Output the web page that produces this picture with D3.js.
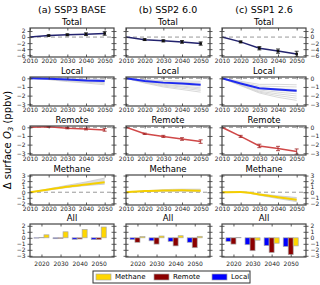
<!DOCTYPE html>
<html>
<head>
<meta charset="utf-8">
<script src="https://cdn.jsdelivr.net/npm/d3@7"></script>
<style>
  body { margin: 0; background: #fff; }
  svg { font-family: "DejaVu Sans", sans-serif; }
</style>
</head>
<body>
<svg width="320" height="285"></svg>
<script>
"use strict";
// ---- data ----
const years = [2010, 2020, 2030, 2040, 2050];
const barYears = [2020, 2030, 2040, 2050];
const scenarios = ["(a) SSP3  BASE", "(b) SSP2  6.0", "(c) SSP1  2.6"];
const rowNames = ["Total", "Local", "Remote", "Methane", "All"];

const totalMean = [[0, 0.5, 0.75, 0.95, 1.2], [0, -0.85, -1.25, -1.6, -2.15], [0, -1.6, -3.7, -4.65, -5.6]];
const totalErr = [[0, 0.2, 0.3, 0.45, 0.6], [0, 0.3, 0.35, 0.45, 0.55], [0, 0.3, 0.55, 0.7, 0.9]];

const localMean = [[0, -0.05, -0.15, -0.25, -0.3], [0, -0.3, -0.5, -0.6, -0.75], [0, -0.6, -1.15, -1.3, -1.45]];
const localMembers = [
  [[0, -0.02, -0.05, -0.08, -0.1], [0, -0.04, -0.1, -0.15, -0.2], [0, -0.05, -0.15, -0.22, -0.3],
   [0, -0.07, -0.2, -0.3, -0.4], [0, -0.1, -0.25, -0.38, -0.5], [0, -0.12, -0.3, -0.45, -0.6],
   [0, -0.15, -0.38, -0.55, -0.75]],
  [[0, -0.15, -0.25, -0.3, -0.35], [0, -0.2, -0.35, -0.45, -0.55], [0, -0.3, -0.5, -0.6, -0.75],
   [0, -0.35, -0.6, -0.75, -0.9], [0, -0.4, -0.7, -0.9, -1.1], [0, -0.45, -0.8, -1.0, -1.25],
   [0, -0.5, -0.9, -1.15, -1.4], [0, -0.55, -1.0, -1.3, -1.6]],
  [[0, -0.35, -0.7, -0.7, -0.75], [0, -0.45, -0.9, -0.95, -1.0], [0, -0.55, -1.1, -1.2, -1.3],
   [0, -0.6, -1.2, -1.4, -1.55], [0, -0.7, -1.35, -1.6, -1.8], [0, -0.75, -1.5, -1.8, -2.05],
   [0, -0.8, -1.6, -2.0, -2.3], [0, -0.85, -1.7, -2.2, -2.55]]
];

const remoteMean = [[0, 0.05, -0.1, -0.2, -0.3], [0, -0.75, -1.05, -1.35, -1.65], [0, -1.05, -2.15, -2.45, -2.8]];
const remoteErr = [[0, 0.05, 0.08, 0.1, 0.15], [0, 0.08, 0.12, 0.15, 0.2], [0, 0.12, 0.2, 0.25, 0.3]];

const methaneMean = [[0, 0.5, 1.0, 1.4, 1.8], [0, 0.2, 0.3, 0.35, 0.25], [0, 0.05, -0.4, -0.9, -1.35]];
const methaneLo = [[0, 0.4, 0.85, 1.2, 1.45], [0, 0.1, 0.15, 0.15, 0.1], [0, 0.0, -0.55, -1.15, -1.7]];
const methaneHi = [[0, 0.6, 1.25, 1.85, 2.55], [0, 0.25, 0.45, 0.55, 0.55], [0, 0.1, -0.3, -0.65, -0.95]];

const yTicks = [[2, 0, -2, -4, -6], [0, -1, -2, -3], [0, -1, -2, -3], [3, 2, 1, 0, -1, -2], [2, 1, 0, -1, -2, -3]];
const yDomains = [[-6.6, 3], [-3.2, 0.15], [-3.2, 0.15], [-2.3, 3.1], [-3.2, 2.3]];

const legendNames = ["Methane", "Remote", "Local"];
const barColors = { Local: "#0000ff", Remote: "#8b0000", Methane: "#ffd700" };

// ---- layout ----
const svg = d3.select("svg");
const colX = [30, 126, 222];
const panelW = 84;
const rowTop = [28, 77, 126, 175, 224];
const rowH = [29, 29, 29, 30, 33];
const titleY = [22, 71, 120, 169, 218];
const minus = s => String(s).replace("-", "\u2212");

const x = d3.scaleLinear().domain([2010, 2055]).range([0, panelW]);
const xb = d3.scaleLinear().domain([2014, 2058]).range([0, panelW]);

scenarios.forEach((name, c) => {
  svg.append("text")
    .attr("x", colX[c] + panelW / 2)
    .attr("y", 10)
    .attr("dy", "0.35em")
    .attr("text-anchor", "middle")
    .style("font-size", "9.5px")
    .text(name);
});

rowNames.forEach((rname, r) => {
  const y = d3.scaleLinear().domain(yDomains[r]).range([rowH[r], 0]);
  scenarios.forEach((s, c) => {
    const g = svg.append("g").attr("transform", `translate(${colX[c]},${rowTop[r]})`);
    svg.append("text")
      .attr("x", colX[c] + panelW / 2)
      .attr("y", titleY[r])
      .attr("dy", "0.35em")
      .attr("text-anchor", "middle")
      .style("font-size", "8.5px")
      .text(rname);

    const clipId = `clip${r}${c}`;
    g.append("clipPath").attr("id", clipId)
      .append("rect").attr("width", panelW).attr("height", rowH[r]);
    const plot = g.append("g").attr("clip-path", `url(#${clipId})`);

    const line = d3.line().x((d, i) => x(years[i])).y(d => y(d));
    const smooth = d3.line().curve(d3.curveMonotoneX).x((d, i) => x(years[i])).y(d => y(d));

    if (r < 4) {
      plot.append("line")
        .attr("x1", 0).attr("x2", panelW)
        .attr("y1", y(0)).attr("y2", y(0))
        .attr("stroke", "#999").attr("stroke-width", 1)
        .attr("stroke-dasharray", "4,3");
    }

    if (r === 0) {
      plot.append("path").datum(totalMean[c])
        .attr("d", line).attr("fill", "none")
        .attr("stroke", "#23236e").attr("stroke-width", 1.5);
      const eb = plot.selectAll(".eb").data(totalMean[c].slice(1)).enter().append("g");
      eb.append("line")
        .attr("x1", (d, i) => x(years[i + 1])).attr("x2", (d, i) => x(years[i + 1]))
        .attr("y1", (d, i) => y(d - totalErr[c][i + 1])).attr("y2", (d, i) => y(d + totalErr[c][i + 1]))
        .attr("stroke", "#111").attr("stroke-width", 0.8);
      [-1, 1].forEach(sg => {
        eb.append("line")
          .attr("x1", (d, i) => x(years[i + 1]) - 2).attr("x2", (d, i) => x(years[i + 1]) + 2)
          .attr("y1", (d, i) => y(d + sg * totalErr[c][i + 1])).attr("y2", (d, i) => y(d + sg * totalErr[c][i + 1]))
          .attr("stroke", "#111").attr("stroke-width", 0.8);
      });
      eb.append("rect")
        .attr("x", (d, i) => x(years[i + 1]) - 1.3).attr("y", d => y(d) - 1.3)
        .attr("width", 2.6).attr("height", 2.6).attr("fill", "#111");
    } else if (r === 1) {
      plot.selectAll(".m").data(localMembers[c]).enter().append("path")
        .attr("d", line).attr("fill", "none")
        .attr("stroke", "#cfcfcf").attr("stroke-width", 0.8);
      plot.append("path").datum(localMean[c])
        .attr("d", line).attr("fill", "none")
        .attr("stroke", "#1f2bf0").attr("stroke-width", 2);
    } else if (r === 2) {
      plot.append("path").datum(remoteMean[c])
        .attr("d", line).attr("fill", "none")
        .attr("stroke", "#d04848").attr("stroke-width", 1.5);
      const eb = plot.selectAll(".eb").data(remoteMean[c].slice(1)).enter().append("g");
      eb.append("line")
        .attr("x1", (d, i) => x(years[i + 1])).attr("x2", (d, i) => x(years[i + 1]))
        .attr("y1", (d, i) => y(d - remoteErr[c][i + 1])).attr("y2", (d, i) => y(d + remoteErr[c][i + 1]))
        .attr("stroke", "#a02020").attr("stroke-width", 0.8);
      [-1, 1].forEach(sg => {
        eb.append("line")
          .attr("x1", (d, i) => x(years[i + 1]) - 2).attr("x2", (d, i) => x(years[i + 1]) + 2)
          .attr("y1", (d, i) => y(d + sg * remoteErr[c][i + 1])).attr("y2", (d, i) => y(d + sg * remoteErr[c][i + 1]))
          .attr("stroke", "#a02020").attr("stroke-width", 0.8);
      });
    } else if (r === 3) {
      const area = d3.area().curve(d3.curveMonotoneX)
        .x((d, i) => x(years[i]))
        .y0((d, i) => y(methaneLo[c][i]))
        .y1((d, i) => y(methaneHi[c][i]));
      plot.append("path").datum(years).attr("d", area).attr("fill", "#dcdcdc");
      plot.append("path").datum(methaneLo[c]).attr("d", smooth)
        .attr("fill", "none").attr("stroke", "#c4c4c4").attr("stroke-width", 0.7);
      plot.append("path").datum(methaneHi[c]).attr("d", smooth)
        .attr("fill", "none").attr("stroke", "#c4c4c4").attr("stroke-width", 0.7);
      plot.append("path").datum(methaneMean[c]).attr("d", smooth)
        .attr("fill", "none").attr("stroke", "#f5cf00").attr("stroke-width", 2);
    } else {
      const xg = d3.scaleBand().domain(["Local", "Remote", "Methane"]).range([-7.5, 7.5]);
      const series = { Local: localMean[c], Remote: remoteMean[c], Methane: methaneMean[c] };
      barYears.forEach((yr, k) => {
        ["Local", "Remote", "Methane"].forEach(key => {
          const v = series[key][k + 1];
          plot.append("rect")
            .attr("x", xb(yr) + xg(key))
            .attr("width", xg.bandwidth())
            .attr("y", y(Math.max(0, v)))
            .attr("height", Math.abs(y(v) - y(0)))
            .attr("fill", barColors[key])
            .attr("stroke", "#aaa").attr("stroke-width", 0.7);
        });
      });
    }

    // axes
    const yAxis = d3.axisLeft(y).tickValues(yTicks[r]).tickSize(2.5).tickPadding(2)
      .tickFormat(c === 0 ? minus : "");
    const ya = g.append("g").call(yAxis);
    ya.selectAll(".tick line").attr("x1", 2.5);
    const yAxisR = d3.axisRight(y).tickValues(yTicks[r]).tickSize(2.5).tickPadding(2)
      .tickFormat(c === 2 ? minus : "");
    const yr = g.append("g").attr("transform", `translate(${panelW},0)`).call(yAxisR);
    yr.selectAll(".tick line").attr("x1", -2.5);

    const xAxis = r < 4
      ? d3.axisBottom(x).tickValues(years).tickFormat(d3.format("d"))
      : d3.axisBottom(xb).tickValues(barYears).tickFormat(d3.format("d"));
    const xa = g.append("g").attr("transform", `translate(0,${rowH[r]})`)
      .call(xAxis.tickSize(-2.5).tickPadding(r < 4 ? 2 : 5));
    const xt = g.append("g")
      .call((r < 4 ? d3.axisTop(x).tickValues(years) : d3.axisTop(xb).tickValues(barYears))
        .tickSize(-2.5).tickFormat(""));
    [ya, yr, xa, xt].forEach(a => {
      a.select(".domain").remove();
      a.selectAll("text").style("font-size", "6px").attr("fill", "#222")
        .style("font-family", "DejaVu Sans, sans-serif");
      a.selectAll(".tick line").attr("stroke", "#333").attr("stroke-width", 0.8);
    });

    g.append("rect")
      .attr("width", panelW).attr("height", rowH[r])
      .attr("fill", "none").attr("stroke", "#444").attr("stroke-width", 1.2);
  });
});

// y label
const yl = svg.append("text")
  .attr("transform", "translate(11,140) rotate(-90)")
  .attr("text-anchor", "middle")
  .style("font-size", "10px");
yl.append("tspan").text("\u0394 surface ");
yl.append("tspan").style("font-style", "italic").text("O");
yl.append("tspan").attr("dy", 2).style("font-size", "7px").style("font-style", "italic").text("3");
yl.append("tspan").attr("dy", -2).text(" (ppbv)");

// legend
const legend = svg.append("g").attr("transform", "translate(93,271)");
legend.append("rect").attr("width", 157).attr("height", 12)
  .attr("fill", "#fff").attr("stroke", "#333").attr("stroke-width", 1);
const legX = d3.scalePoint().domain(legendNames).range([3, 119]);
legend.selectAll(".item").data(legendNames).enter().append("g")
  .attr("transform", d => `translate(${legX(d)},0)`)
  .each(function (d) {
    const it = d3.select(this);
    it.append("rect").attr("y", 3).attr("width", 15).attr("height", 6)
      .attr("fill", barColors[d]).attr("stroke", "#aaa").attr("stroke-width", 0.7);
    it.append("text").attr("x", 19).attr("y", 6).attr("dy", "0.35em")
      .style("font-size", "7px").text(d);
  });
</script>
</body>
</html>
